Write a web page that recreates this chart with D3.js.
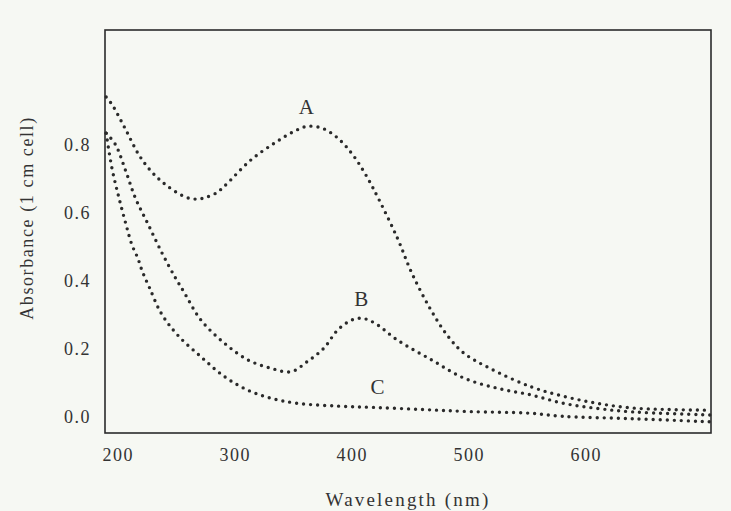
<!DOCTYPE html>
<html>
<head>
<meta charset="utf-8">
<script src="https://cdn.jsdelivr.net/npm/d3@7"></script>
<style>
  html, body { margin: 0; padding: 0; background: #f6f8f3; }
  svg { display: block; }
  text { font-family: "Liberation Serif", "DejaVu Serif", serif; fill: #333; }
</style>
</head>
<body>
<div id="chart"></div>
<script>
// Wavelength (nm) / absorbance readings for each curve
const wavelengthA = [190, 195, 206, 218, 229, 241, 258, 268, 275, 284, 291, 314, 334, 350, 362, 375, 386, 395, 404, 413, 423, 439, 451, 467, 482, 496, 518, 553, 582, 610, 638, 670, 706];
const absorbA     = [0.94, 0.918, 0.849, 0.77, 0.72, 0.682, 0.646, 0.64, 0.645, 0.658, 0.678, 0.756, 0.805, 0.838, 0.854, 0.848, 0.825, 0.795, 0.755, 0.705, 0.64, 0.525, 0.425, 0.318, 0.238, 0.187, 0.143, 0.089, 0.06, 0.04, 0.027, 0.022, 0.02];

const wavelengthB = [190, 198, 207, 215, 226, 238, 249, 256, 271, 291, 311, 331, 348, 362, 376, 388, 400, 409, 420, 439, 468, 496, 525, 553, 581, 610, 640, 706];
const absorbB     = [0.834, 0.8, 0.72, 0.643, 0.565, 0.48, 0.41, 0.37, 0.285, 0.217, 0.168, 0.143, 0.133, 0.163, 0.202, 0.256, 0.285, 0.29, 0.275, 0.226, 0.168, 0.114, 0.084, 0.065, 0.04, 0.025, 0.015, 0.006];

const wavelengthC = [190, 195, 201, 207, 212, 217, 221, 227, 237, 251, 271, 291, 311, 331, 354, 388, 420, 460, 500, 553, 580, 640, 706];
const absorbC     = [0.834, 0.73, 0.643, 0.565, 0.506, 0.467, 0.427, 0.38, 0.305, 0.241, 0.177, 0.119, 0.079, 0.055, 0.04, 0.032, 0.028, 0.022, 0.016, 0.011, 0.002, -0.005, -0.014];

const curveNames = ['A', 'B', 'C'];
const labelWavelength = [361, 408, 422];
const labelAbsorb = [0.89, 0.327, 0.068];

const xTicks = [200, 300, 400, 500, 600];
const yTicks = [0.0, 0.2, 0.4, 0.6, 0.8];

const width = 731;
const height = 511;

const svg = d3.select('#chart')
    .append('svg')
    .attr('width', width)
    .attr('height', height);

// scales fitted to the scanned frame
const x = d3.scaleLinear().domain([189, 707]).range([105, 711]);
const y = d3.scaleLinear().domain([-0.047, 1.137]).range([433, 30]);

// plot frame
svg.append('rect')
    .attr('x', x.range()[0])
    .attr('y', y.range()[1])
    .attr('width', x.range()[1] - x.range()[0])
    .attr('height', y.range()[0] - y.range()[1])
    .attr('fill', 'none')
    .attr('stroke', '#2b2b2b')
    .attr('stroke-width', 1.6);

// axes: labels only, no tick marks or domain line
const xAxis = svg.append('g')
    .attr('transform', `translate(0, ${y.range()[0]})`)
    .call(d3.axisBottom(x).tickValues(xTicks).tickSize(0).tickPadding(15).tickFormat(d3.format('d')));
xAxis.select('.domain').remove();
xAxis.selectAll('text')
    .attr('font-size', 18)
    .attr('letter-spacing', 1.5)
    .attr('fill', '#333');

const yAxis = svg.append('g')
    .attr('transform', `translate(${x.range()[0]}, 0)`)
    .call(d3.axisLeft(y).tickValues(yTicks).tickSize(0).tickPadding(14).tickFormat(d3.format('.1f')));
yAxis.select('.domain').remove();
yAxis.selectAll('text')
    .attr('font-size', 18)
    .attr('letter-spacing', 1.5)
    .attr('fill', '#333');

// axis titles
svg.append('text')
    .attr('x', 408)
    .attr('y', 506)
    .attr('text-anchor', 'middle')
    .attr('font-size', 19)
    .attr('letter-spacing', 2.2)
    .text('Wavelength (nm)');

svg.append('text')
    .attr('transform', 'translate(33, 218) rotate(-90)')
    .attr('text-anchor', 'middle')
    .attr('font-size', 18)
    .attr('letter-spacing', 1.6)
    .text('Absorbance (1 cm cell)');

// dotted spectra
const line = d3.line()
    .x(d => x(d[0]))
    .y(d => y(d[1]))
    .curve(d3.curveCatmullRom);

const series = [
    d3.zip(wavelengthA, absorbA),
    d3.zip(wavelengthB, absorbB),
    d3.zip(wavelengthC, absorbC)
];

svg.selectAll('path.spectrum')
    .data(series)
    .enter()
    .append('path')
    .attr('class', 'spectrum')
    .attr('d', line)
    .attr('fill', 'none')
    .attr('stroke', '#2a2a2a')
    .attr('stroke-width', 3.4)
    .attr('stroke-linecap', 'round')
    .attr('stroke-dasharray', '0 7');

// curve letters
svg.selectAll('text.curve-label')
    .data(curveNames)
    .enter()
    .append('text')
    .attr('class', 'curve-label')
    .attr('x', (d, i) => x(labelWavelength[i]))
    .attr('y', (d, i) => y(labelAbsorb[i]))
    .attr('text-anchor', 'middle')
    .attr('font-size', 21)
    .text(d => d);
</script>
</body>
</html>
